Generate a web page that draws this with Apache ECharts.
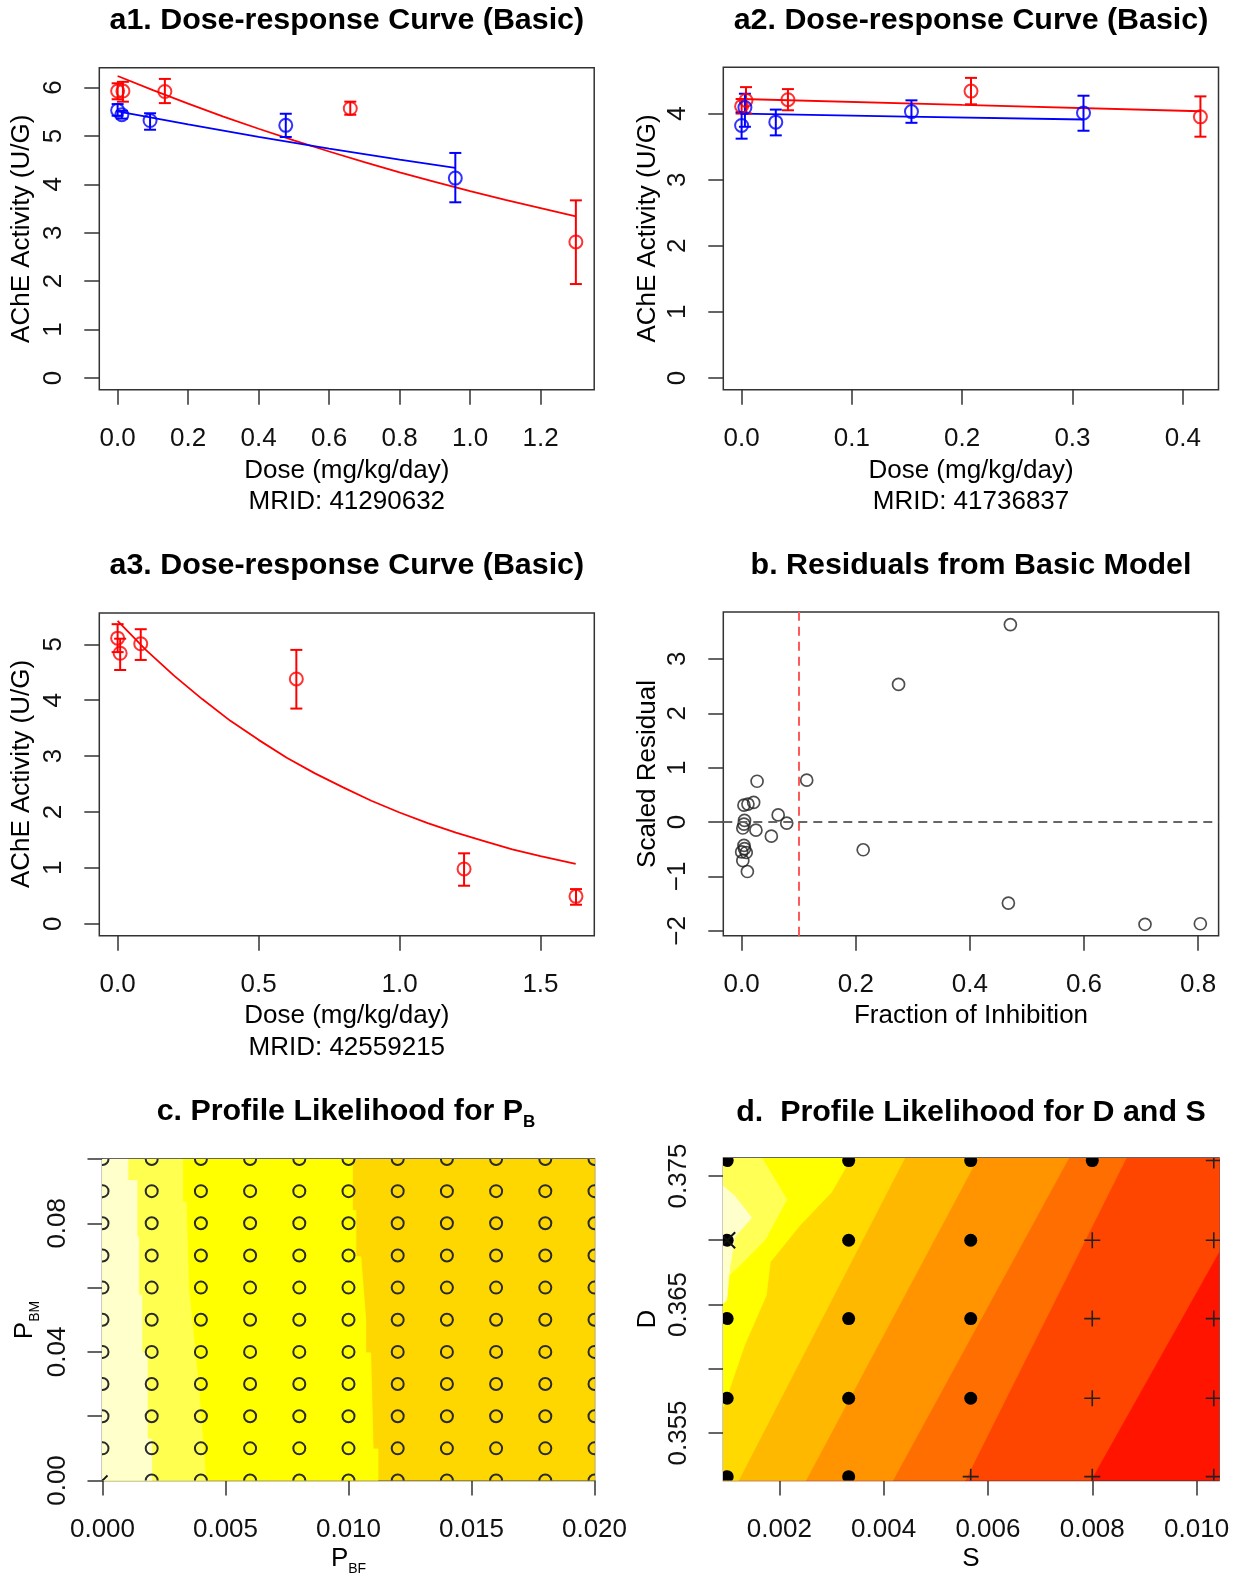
<!DOCTYPE html>
<html><head><meta charset="utf-8">
<script src="https://cdn.jsdelivr.net/npm/echarts@6/dist/echarts.min.js"></script>
<style>html,body{margin:0;padding:0;background:#fff}#c{width:1241px;height:1576px}</style>
</head><body><div id="c"></div>
<script>
// ================= DATA =================
// a1 (MRID 41290632)
const a1RedDose = [0.000, 0.015, 0.134, 0.660, 1.300];
const a1RedMean = [5.93, 5.93, 5.92, 5.57, 2.81];
const a1RedLow  = [5.76, 5.71, 5.68, 5.44, 1.94];
const a1RedHigh = [6.09, 6.12, 6.18, 5.71, 3.67];
const a1BlueDose = [0.000, 0.012, 0.092, 0.477, 0.958];
const a1BlueMean = [5.53, 5.44, 5.32, 5.22, 4.13];
const a1BlueLow  = [5.42, 5.36, 5.13, 4.98, 3.63];
const a1BlueHigh = [5.66, 5.52, 5.47, 5.46, 4.65];
const a1RedFitDose = [0, 0.1, 0.2, 0.3, 0.4, 0.5, 0.6, 0.7, 0.8, 0.9, 1.0, 1.1, 1.2, 1.3];
const a1RedFit     = [6.24, 5.95, 5.67, 5.40, 5.15, 4.91, 4.68, 4.46, 4.25, 4.05, 3.86, 3.68, 3.51, 3.34];
const a1BlueFitDose = [0, 0.2, 0.4, 0.6, 0.8, 0.958];
const a1BlueFit     = [5.51, 5.24, 4.98, 4.74, 4.51, 4.34];
const a1XTicks = [0, 0.2, 0.4, 0.6, 0.8, 1.0, 1.2];
const a1YTicks = [0, 1, 2, 3, 4, 5, 6];

// a2 (MRID 41736837)
const a2RedDose = [0.000, 0.004, 0.042, 0.208, 0.416];
const a2RedMean = [4.11, 4.20, 4.21, 4.34, 3.95];
const a2RedLow  = [4.00, 4.00, 4.05, 4.14, 3.65];
const a2RedHigh = [4.22, 4.40, 4.37, 4.54, 4.26];
const a2BlueDose = [0.000, 0.003, 0.031, 0.154, 0.310];
const a2BlueMean = [3.82, 4.09, 3.87, 4.03, 4.01];
const a2BlueLow  = [3.62, 3.80, 3.67, 3.86, 3.74];
const a2BlueHigh = [4.02, 4.30, 4.06, 4.20, 4.27];
const a2RedFitDose = [0, 0.2, 0.416];
const a2RedFit     = [4.22, 4.13, 4.035];
const a2BlueFitDose = [0, 0.15, 0.31];
const a2BlueFit     = [4.00, 3.955, 3.91];
const a2XTicks = [0, 0.1, 0.2, 0.3, 0.4];
const a2YTicks = [0, 1, 2, 3, 4];

// a3 (MRID 42559215)
const a3RedDose = [0.000, 0.009, 0.082, 0.634, 1.229, 1.626];
const a3RedMean = [5.11, 4.84, 5.01, 4.38, 0.98, 0.49];
const a3RedLow  = [4.86, 4.54, 4.72, 3.85, 0.68, 0.34];
const a3RedHigh = [5.36, 5.10, 5.27, 4.90, 1.26, 0.62];
const a3RedFitDose = [0, 0.1, 0.2, 0.3, 0.4, 0.5, 0.6, 0.7, 0.8, 0.9, 1.0, 1.1, 1.2, 1.3, 1.4, 1.5, 1.625];
const a3RedFit     = [5.42, 4.90, 4.44, 4.02, 3.63, 3.29, 2.97, 2.69, 2.44, 2.20, 1.99, 1.80, 1.63, 1.48, 1.33, 1.21, 1.07];
const a3XTicks = [0, 0.5, 1.0, 1.5];
const a3YTicks = [0, 1, 2, 3, 4, 5];

// b residuals
const bFraction = [0.471, 0.275, 0.114, 0.027, 0.004, 0.011, 0.021, 0.064, 0.079, 0.005, 0.004, 0.002,
                   0.025, 0.052, 0.004, 0.005, 0.000, 0.008, 0.002, 0.010, 0.213, 0.4675, 0.707, 0.804];
const bResidual = [3.63, 2.53, 0.77, 0.75, 0.31, 0.33, 0.36, 0.13, -0.02, 0.03, -0.04, -0.11,
                   -0.15, -0.26, -0.43, -0.49, -0.55, -0.56, -0.71, -0.91, -0.51, -1.49, -1.88, -1.87];
const bCutoff = 0.1;
const bXTicks = [0, 0.2, 0.4, 0.6, 0.8];
const bYTicks = [-2, -1, 0, 1, 2, 3];

// c profile likelihood for P_B
const cPBF = [0, 0.002, 0.004, 0.006, 0.008, 0.010, 0.012, 0.014, 0.016, 0.018, 0.020];
const cPBM = [0, 0.01, 0.02, 0.03, 0.04, 0.05, 0.06, 0.07, 0.08, 0.09, 0.10];
const cBest = [0, 0];
// contour band edges (the upper-left side is the lighter band)
const cEdgeYellow = [[0.01016,0.100],[0.01016,0.084],[0.0103,0.084],[0.0103,0.0696],[0.0105,0.0696],[0.0107,0.050],
                     [0.0107,0.0397],[0.0109,0.0397],[0.0110,0.0098],[0.0112,0.0098],[0.0112,0.0]];
const cEdgeLight  = [[0.00326,0.100],[0.00326,0.0866],[0.0034,0.0866],[0.0035,0.060],[0.0037,0.045],[0.0039,0.030],
                     [0.0041,0.010],[0.0042,0.0]];
const cEdgePale   = [[0.00103,0.100],[0.00103,0.0933],[0.0014,0.0933],[0.0014,0.0758],[0.00147,0.0758],[0.00147,0.0577],
                     [0.0016,0.0577],[0.0016,0.0397],[0.00182,0.0397],[0.00182,0.0129],[0.0020,0.0129],[0.0020,0.0]];
const cXTicks = [0, 0.005, 0.010, 0.015, 0.020];
const cYTicks = [0, 0.02, 0.04, 0.06, 0.08, 0.10];
const cYLabels = [0, 0.04, 0.08];

// d profile likelihood for D and S
const dS = [0.001, 0.00333, 0.00567, 0.008, 0.01033];
const dD = [0.3516, 0.3577, 0.3639, 0.3700, 0.3762];
// marker type per [row D][col S]: 0 filled dot, 1 plus, 2 dot + cross (best)
const dMarkType = [
  [0, 0, 1, 1, 1],
  [0, 0, 0, 1, 1],
  [0, 0, 0, 1, 1],
  [2, 0, 0, 1, 1],
  [0, 0, 0, 0, 1]
];
const dEdgeRedOrange = [[0.00797,0.3513],[0.01043,0.3691]];
const dEdgeDarkOrange = [[0.00556,0.3513],[0.00865,0.3764]];
const dEdgeOrange = [[0.004175,0.3513],[0.007549,0.3764]];
const dEdgeOrangeGold = [[0.002507,0.3513],[0.005805,0.3764]];
const dEdgeGold = [[0.001218,0.3513],[0.004403,0.3764]];
const dEdgeYellow = [[0.00093,0.35705],[0.001104,0.35912],[0.001332,0.36183],[0.001749,0.36571],[0.001825,0.36830],
                     [0.002393,0.37115],[0.002999,0.37374],[0.003379,0.3764]];
const dEdgeLight = [[0.00093,0.36690],[0.001218,0.36794],[0.001726,0.37003],[0.002143,0.37317],[0.001665,0.3764]];
const dEdgePale = [[0.00093,0.3742],[0.00115,0.37342],[0.001468,0.37174],[0.00115,0.37029],[0.001051,0.36794],
                   [0.000991,0.36535],[0.00093,0.36509]];
const dXTicks = [0.002, 0.004, 0.006, 0.008, 0.010];
const dYTicks = [0.355, 0.360, 0.365, 0.370, 0.375];
const dYLabels = [0.355, 0.365, 0.375];

// ================= STYLE / LAYOUT =================
const FONT = "'Liberation Sans', Arial, Helvetica, sans-serif";
const AX = 26, TI = 30.4;
const RED = '#ff0000', BLUE = '#0000ff', INK = '#333333';
const G = [
  {left: 99.3,  top: 67.8,  width: 494.9, height: 322.0},
  {left: 723.3, top: 67.3,  width: 495.2, height: 322.5},
  {left: 99.3,  top: 613.0, width: 495.0, height: 322.7},
  {left: 723.3, top: 612.1, width: 495.3, height: 323.6},
  {left: 102.5, top: 1159,  width: 492.0, height: 321.5},
  {left: 723.5, top: 1158,  width: 495.5, height: 322.5}
];
const RANGES = [
  {x: [-0.052, 1.352], y: [-0.246, 6.41]},
  {x: [-0.0166, 0.4324], y: [-0.18, 4.70]},
  {x: [-0.065, 1.691], y: [-0.214, 5.56]},
  {x: [-0.0322, 0.836], y: [-2.09, 3.86]},
  {x: [0, 0.020], y: [0, 0.10]},
  {x: [0.00093, 0.01043], y: [0.3513, 0.3764]}
];
const TICKS = [
  {x: a1XTicks, xl: a1XTicks, xd: 1, y: a1YTicks, yl: a1YTicks, yd: 0},
  {x: a2XTicks, xl: a2XTicks, xd: 1, y: a2YTicks, yl: a2YTicks, yd: 0},
  {x: a3XTicks, xl: a3XTicks, xd: 1, y: a3YTicks, yl: a3YTicks, yd: 0},
  {x: bXTicks, xl: bXTicks, xd: 1, y: bYTicks, yl: bYTicks, yd: 0},
  {x: cXTicks, xl: cXTicks, xd: 3, y: cYTicks, yl: cYLabels, yd: 2},
  {x: dXTicks, xl: dXTicks, xd: 3, y: dYTicks, yl: dYLabels, yd: 3}
];
function fmt(d) { return v => (v < 0 ? '\u2212' : '') + Math.abs(v).toFixed(d); }

const grids = G.map(g => Object.assign({show: true, borderColor: INK, borderWidth: 1.5, backgroundColor: 'transparent',
                                        containLabel: false, outerBoundsMode: 'none'}, g));
const xAxes = RANGES.map((r, i) => ({
  type: 'value', gridIndex: i, min: r.x[0], max: r.x[1], position: 'bottom',
  splitLine: {show: false}, axisLine: {show: false, onZero: false},
  axisTick: {show: true, inside: false, length: 15, customValues: TICKS[i].x, lineStyle: {color: INK, width: 1.5}},
  axisLabel: {customValues: TICKS[i].xl, formatter: fmt(TICKS[i].xd), margin: 36, fontSize: AX, fontFamily: FONT, color: '#111'}
}));
const yAxes = RANGES.map((r, i) => ({
  type: 'value', gridIndex: i, min: r.y[0], max: r.y[1], position: 'left',
  splitLine: {show: false}, axisLine: {show: false, onZero: false},
  axisTick: {show: true, inside: false, length: 15, customValues: TICKS[i].y, lineStyle: {color: INK, width: 1.5}},
  axisLabel: {customValues: TICKS[i].yl, formatter: fmt(TICKS[i].yd), rotate: 90, margin: 32, fontSize: AX, fontFamily: FONT, color: '#111'}
}));

// ================= SERIES BUILDERS =================
function zip(a, b) { return a.map((v, i) => [v, b[i]]); }
function fitLine(gi, xs, ys, color) {
  return {type: 'line', xAxisIndex: gi, yAxisIndex: gi, data: zip(xs, ys), showSymbol: false, symbol: 'none',
          lineStyle: {color, width: 1.8}, z: 2, silent: true};
}
function points(gi, xs, ys, color, size) {
  return {type: 'scatter', xAxisIndex: gi, yAxisIndex: gi, data: zip(xs, ys), symbol: 'circle', symbolSize: size || 13,
          itemStyle: {color: 'rgba(0,0,0,0)', borderColor: color, borderWidth: 2}, z: 4, silent: true};
}
function errBars(gi, xs, lo, hi, color) {
  return {type: 'custom', xAxisIndex: gi, yAxisIndex: gi, data: xs.map((x, i) => [x, lo[i], hi[i]]),
    encode: {x: 0, y: [1, 2]}, z: 3, silent: true,
    renderItem: (p, api) => {
      const x = api.value(0);
      const a = api.coord([x, api.value(1)]), b = api.coord([x, api.value(2)]);
      const w = 6, st = {stroke: color, lineWidth: 2};
      return {type: 'group', children: [
        {type: 'line', shape: {x1: a[0], y1: a[1], x2: b[0], y2: b[1]}, style: st},
        {type: 'line', shape: {x1: a[0] - w, y1: a[1], x2: a[0] + w, y2: a[1]}, style: st},
        {type: 'line', shape: {x1: b[0] - w, y1: b[1], x2: b[0] + w, y2: b[1]}, style: st}
      ]};
    }};
}
function bands(gi, polys, colors) {
  return {type: 'custom', xAxisIndex: gi, yAxisIndex: gi, clip: true, silent: true, z: 1,
    data: polys.map((pl, i) => [pl[0][0], pl[0][1], i]),
    renderItem: (p, api) => {
      const i = api.value(2);
      return {type: 'polygon', shape: {points: polys[i].map(pt => api.coord(pt))},
              style: {fill: colors[i], stroke: colors[i], lineWidth: 0.8}};
    }};
}
function gridMarks(gi, data, drawFn) {
  return {type: 'custom', xAxisIndex: gi, yAxisIndex: gi, clip: true, silent: true, z: 5, data,
    renderItem: (p, api) => drawFn(api.coord([api.value(0), api.value(1)]), api.value(2))};
}
function cross(c, s, w) {
  return [
    {type: 'line', shape: {x1: c[0] - s, y1: c[1] - s, x2: c[0] + s, y2: c[1] + s}, style: {stroke: '#111', lineWidth: w}},
    {type: 'line', shape: {x1: c[0] - s, y1: c[1] + s, x2: c[0] + s, y2: c[1] - s}, style: {stroke: '#111', lineWidth: w}}
  ];
}
function plus(c, s, w) {
  return [
    {type: 'line', shape: {x1: c[0] - s, y1: c[1], x2: c[0] + s, y2: c[1]}, style: {stroke: '#222', lineWidth: w}},
    {type: 'line', shape: {x1: c[0], y1: c[1] - s, x2: c[0], y2: c[1] + s}, style: {stroke: '#222', lineWidth: w}}
  ];
}

// c polygons
const cx0 = RANGES[4].x[0], cy0 = RANGES[4].y[0], cy1 = RANGES[4].y[1], cx1 = RANGES[4].x[1];
const cPolys = [
  [[cx0, cy0], [cx1, cy0], [cx1, cy1], [cx0, cy1]],
  cEdgeYellow.concat([[cx0, cy0], [cx0, cy1]]),
  cEdgeLight.concat([[cx0, cy0], [cx0, cy1]]),
  cEdgePale.concat([[cx0, cy0], [cx0, cy1]])
];
const cColors = ['#ffd700', '#ffff00', '#ffff50', '#ffffcc'];
const cMarks = [];
cPBM.forEach(y => cPBF.forEach(x => cMarks.push([x, y, (x === cBest[0] && y === cBest[1]) ? 1 : 0])));

// d polygons
const dx0 = RANGES[5].x[0], dx1 = RANGES[5].x[1], dy0 = RANGES[5].y[0], dy1 = RANGES[5].y[1];
const dPolys = [
  [[dx0, dy0], [dx1, dy0], [dx1, dy1], [dx0, dy1]],
  dEdgeRedOrange.concat([[dx1, dy1], [dx0, dy1], [dx0, dy0]]),
  dEdgeDarkOrange.concat([[dx0, dy1], [dx0, dy0]]),
  dEdgeOrange.concat([[dx0, dy1], [dx0, dy0]]),
  dEdgeOrangeGold.concat([[dx0, dy1], [dx0, dy0]]),
  dEdgeGold.concat([[dx0, dy1], [dx0, dy0]]),
  dEdgeYellow.concat([[dx0, dy1]]),
  dEdgeLight.concat([[dx0, dy1]]),
  dEdgePale
];
const dColors = ['#ff1400', '#ff4600', '#ff6e00', '#ff9400', '#ffb800', '#ffd900', '#ffff00', '#ffff55', '#ffffcc'];
const dMarks = [];
dD.forEach((y, r) => dS.forEach((x, k) => dMarks.push([x, y, dMarkType[r][k]])));

const series = [
  // a1
  fitLine(0, a1RedFitDose, a1RedFit, RED), fitLine(0, a1BlueFitDose, a1BlueFit, BLUE),
  errBars(0, a1RedDose, a1RedLow, a1RedHigh, RED), errBars(0, a1BlueDose, a1BlueLow, a1BlueHigh, BLUE),
  points(0, a1RedDose, a1RedMean, RED), points(0, a1BlueDose, a1BlueMean, BLUE),
  // a2
  fitLine(1, a2RedFitDose, a2RedFit, RED), fitLine(1, a2BlueFitDose, a2BlueFit, BLUE),
  errBars(1, a2RedDose, a2RedLow, a2RedHigh, RED), errBars(1, a2BlueDose, a2BlueLow, a2BlueHigh, BLUE),
  points(1, a2RedDose, a2RedMean, RED), points(1, a2BlueDose, a2BlueMean, BLUE),
  // a3
  fitLine(2, a3RedFitDose, a3RedFit, RED),
  errBars(2, a3RedDose, a3RedLow, a3RedHigh, RED),
  points(2, a3RedDose, a3RedMean, RED),
  // b
  {type: 'scatter', xAxisIndex: 3, yAxisIndex: 3, data: zip(bFraction, bResidual), symbol: 'circle', symbolSize: 12,
   itemStyle: {color: 'rgba(0,0,0,0)', borderColor: '#222', borderWidth: 1.7}, z: 4, silent: true,
   markLine: {silent: true, symbol: ['none', 'none'], label: {show: false}, animation: false,
     data: [
       {xAxis: bCutoff, lineStyle: {color: '#ff5a5a', type: [9, 6], width: 2}},
       {yAxis: 0, lineStyle: {color: '#666666', type: [9, 6], width: 2}}
     ]}},
  // c
  bands(4, cPolys, cColors),
  gridMarks(4, cMarks, (c, t) => t === 1 ? {type: 'group', children: cross(c, 5, 1.8)} :
    {type: 'circle', shape: {cx: c[0], cy: c[1], r: 6}, style: {fill: 'none', stroke: '#2a2a2a', lineWidth: 2}}),
  // d
  bands(5, dPolys, dColors),
  gridMarks(5, dMarks, (c, t) => {
    if (t === 1) return {type: 'group', children: plus(c, 8, 1.6)};
    const dot = {type: 'circle', shape: {cx: c[0], cy: c[1], r: 6.5}, style: {fill: '#000'}};
    if (t === 2) return {type: 'group', children: [dot].concat(cross(c, 8, 2))};
    return dot;
  })
];

// ================= TEXT =================
function txt(x, y, text, size, bold, rot) {
  return {type: 'text', x, y, rotation: rot || 0, silent: true,
    style: {text, fontSize: size, fontWeight: bold ? 'bold' : 'normal', fontFamily: FONT, fill: '#000',
            align: 'center', verticalAlign: 'middle', textAlign: 'center', textVerticalAlign: 'middle'}};
}
function subTxt(x, y, main, sub, size, subSize, bold, rot) {
  const fw = bold ? 'bold' : 'normal';
  return {type: 'text', x, y, rotation: rot || 0, silent: true,
    style: {text: '{m|' + main + '}{s|' + sub + '}', fontFamily: FONT, fontSize: size, fontWeight: fw, fill: '#000',
      align: 'center', verticalAlign: 'middle', textAlign: 'center', textVerticalAlign: 'middle',
      rich: {
        m: {fontSize: size, fontWeight: fw, fontFamily: FONT, fill: '#000', color: '#000', lineHeight: size + 8, verticalAlign: 'middle'},
        s: {fontSize: subSize, fontWeight: fw, fontFamily: FONT, fill: '#000', color: '#000', lineHeight: subSize, verticalAlign: 'bottom'}
      }}};
}
const R90 = Math.PI / 2;
const graphic = [
  txt(346.8, 20.5, 'a1. Dose-response Curve (Basic)', TI, true),
  txt(971, 20.5, 'a2. Dose-response Curve (Basic)', TI, true),
  txt(346.8, 566, 'a3. Dose-response Curve (Basic)', TI, true),
  txt(971, 566, 'b. Residuals from Basic Model', TI, true),
  subTxt(346, 1112, 'c. Profile Likelihood for P', 'B', TI, 17, true),
  txt(971, 1113, 'd.  Profile Likelihood for D and S', TI, true),
  txt(346.8, 470.5, 'Dose (mg/kg/day)', AX), txt(346.8, 502, 'MRID: 41290632', AX),
  txt(971, 470.5, 'Dose (mg/kg/day)', AX), txt(971, 502, 'MRID: 41736837', AX),
  txt(346.8, 1015.5, 'Dose (mg/kg/day)', AX), txt(346.8, 1047.5, 'MRID: 42559215', AX),
  txt(971, 1015.5, 'Fraction of Inhibition', AX),
  txt(22, 228.8, 'AChE Activity (U/G)', AX, false, R90),
  txt(648, 228.5, 'AChE Activity (U/G)', AX, false, R90),
  txt(22, 774, 'AChE Activity (U/G)', AX, false, R90),
  txt(648, 774, 'Scaled Residual', AX, false, R90),
  subTxt(348.5, 1559, 'P', 'BF', AX, 14, false),
  subTxt(25, 1320, 'P', 'BM', AX, 14, false, R90),
  txt(971, 1559, 'S', AX),
  txt(648, 1319, 'D', AX, false, R90)
];

const chart = echarts.init(document.getElementById('c'), null, {renderer: 'canvas'});
chart.setOption({
  animation: false,
  backgroundColor: '#ffffff',
  grid: grids, xAxis: xAxes, yAxis: yAxes, series, graphic
});
</script></body></html>
